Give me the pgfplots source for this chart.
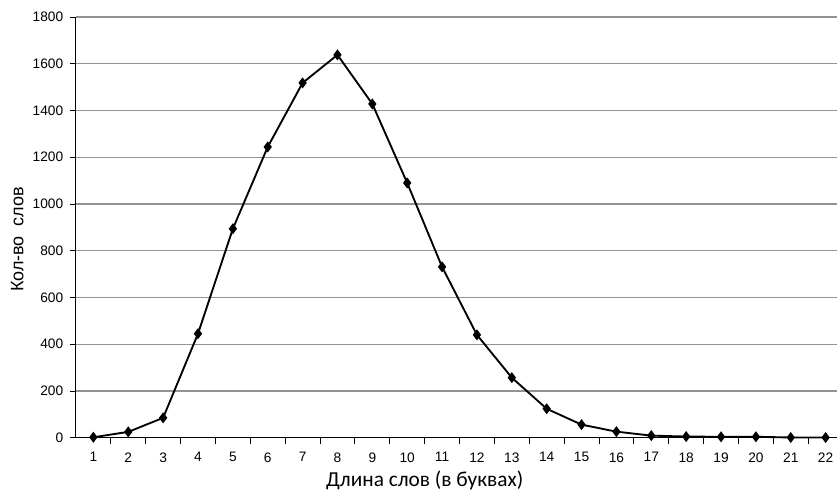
\documentclass[border=0pt]{standalone}
\usepackage{fontspec}
\setmainfont{Liberation Sans}
\newfontfamily\carlito{Carlito}
\usepackage{pgfplots}
\pgfplotsset{compat=1.18}
\begin{document}
\begin{tikzpicture}
\begin{axis}[
  scale only axis,
  width=571.5pt, height=315.75pt,
  xmin=0.5, xmax=22.34,
  ymin=0, ymax=1800,
  axis lines=left,
  axis line style={-, black, line width=0.8pt},
  ytick={0,200,...,1800},
  xtick={1,...,22},
  minor xtick={1.5,2.5,...,21.5},
  major x tick style={draw=none},
  minor x tick style={black, line width=0.6pt},
  minor tick length=4.5pt,
  y tick style={black, line width=0.6pt},
  major tick length=4.5pt,
  tick align=outside,
  ymajorgrids,
  major grid style={gray!85, line width=0.8pt},
  tick label style={font=\fontsize{10.3}{12}\selectfont},
  /pgf/number format/assume math mode=true,
  /pgf/number format/set thousands separator={},
  xticklabel style={yshift=-3pt},
  yticklabel style={xshift=-1.5pt},
  xlabel={\carlito\fontsize{16}{18}\selectfont Длина слов (в буквах)},
  ylabel={\fontsize{13.5}{15}\selectfont Кол-во\ \ слов},
  xlabel style={xshift=-24pt},
  ylabel style={xshift=-9pt},
  clip=false,
]
\addplot[black, line width=1.4pt, mark=diamond*, mark size=3pt, mark options={solid, fill=black}]
coordinates {
(1,2) (2,25) (3,85) (4,445) (5,894) (6,1244) (7,1518) (8,1638) (9,1428) (10,1090)
(11,731) (12,440) (13,257) (14,124) (15,56) (16,26) (17,9) (18,5) (19,4) (20,4) (21,1) (22,1)
};
\end{axis}
\path (current axis.south west) ++(-57pt,-41.5pt) coordinate (bl);
\path (current axis.north east) ++(0pt,12.75pt) coordinate (tr);
\path[use as bounding box] (bl) rectangle (tr);
\end{tikzpicture}
\end{document}
